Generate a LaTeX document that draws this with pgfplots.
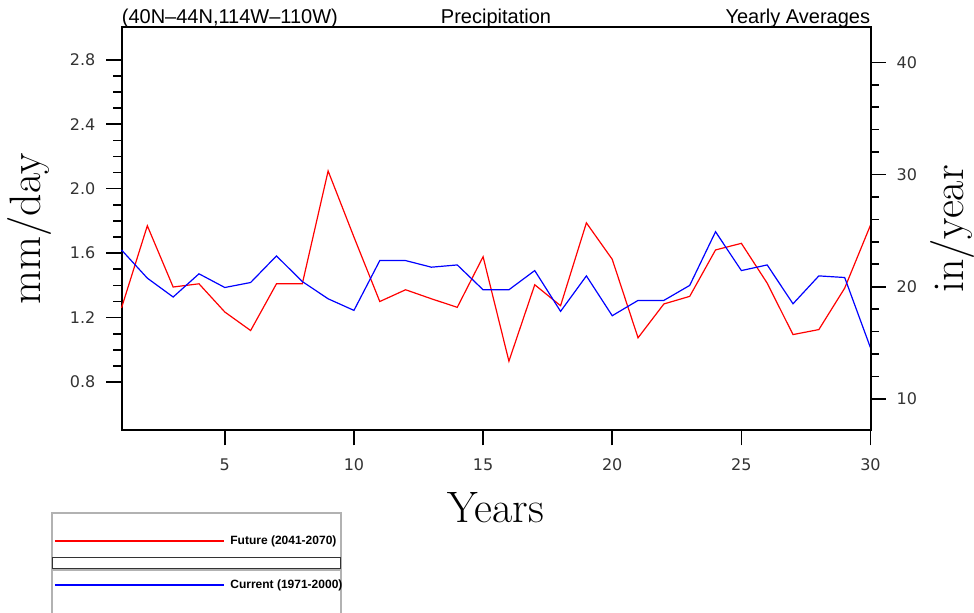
\documentclass[border=0pt]{standalone}
\usepackage{fontspec}
\usepackage{pgfplots}
\pgfplotsset{compat=1.18}
\newfontfamily\tickfont{DejaVu Sans}
\newfontfamily\titlefont{Liberation Sans}
\definecolor{futred}{RGB}{255,0,0}
\definecolor{curblue}{RGB}{0,0,255}

% mm/day -> in/year
\pgfmathsetmacro{\conv}{365/25.4}

\begin{document}
\begin{tikzpicture}
\useasboundingbox (-60.75pt,-91.25pt) rectangle (426.25pt,215.25pt);

\begin{axis}[
    scale only axis,
    width=374.5pt, height=201.5pt,
    at={(0,0)}, anchor=south west,
    xmin=1, xmax=30, ymin=0.5, ymax=3.0,
    xtick={5,10,...,30},
    ytick={0.8,1.2,1.6,2.0,2.4,2.8},
    minor y tick num=3,
    xtick pos=bottom, ytick pos=left,
    tick align=outside,
    major tick length=7.5pt, minor tick length=4pt,
    axis line style={line width=1pt},
    every tick/.style={black, line width=0.8pt},
    /pgf/number format/assume math mode=true,
    yticklabel style={font=\tickfont\fontsize{8}{9}\selectfont, text=black!80,
        xshift=-2pt,
        /pgf/number format/.cd, fixed, fixed zerofill, precision=1},
    xticklabel style={font=\tickfont\fontsize{8}{9}\selectfont, text=black!80,
        yshift=-3pt},
    every axis y label/.style={at={(axis description cs:0,0.5)},
        xshift=-46pt, rotate=90, anchor=center},
    every axis x label/.style={at={(axis description cs:0.5,0)},
        anchor=center, yshift=-38.75pt},
    ylabel={\fontsize{22}{26}\selectfont mm/day},
    xlabel={\fontsize{22}{26}\selectfont Years},
    clip=false,
]
\addplot[futred, line width=0.6pt] coordinates {
 (1,1.26) (2,1.77) (3,1.39) (4,1.41) (5,1.235) (6,1.12) (7,1.41) (8,1.41)
 (9,2.11) (10,1.70) (11,1.30) (12,1.373) (13,1.317) (14,1.264) (15,1.578)
 (16,0.93) (17,1.404) (18,1.274) (19,1.788) (20,1.562) (21,1.075) (22,1.285)
 (23,1.332) (24,1.62) (25,1.661) (26,1.414) (27,1.095) (28,1.126) (29,1.383)
 (30,1.774)
};
\addplot[curblue, line width=0.6pt] coordinates {
 (1,1.62) (2,1.445) (3,1.328) (4,1.472) (5,1.387) (6,1.418) (7,1.583) (8,1.424)
 (9,1.317) (10,1.245) (11,1.554) (12,1.554) (13,1.513) (14,1.527) (15,1.373)
 (16,1.373) (17,1.492) (18,1.239) (19,1.459) (20,1.212) (21,1.307) (22,1.307)
 (23,1.40) (24,1.733) (25,1.492) (26,1.527) (27,1.286) (28,1.459) (29,1.449)
 (30,1.013)
};
\node[anchor=base west, inner sep=0pt, font=\titlefont\fontsize{10}{12}\selectfont]
    at ([yshift=2pt]axis description cs:0,1) {(40N–44N,114W–110W)};
\node[anchor=base, inner sep=0pt, font=\titlefont\fontsize{10}{12}\selectfont]
    at ([yshift=2pt]axis description cs:0.5,1) {Precipitation};
\node[anchor=base east, inner sep=0pt, font=\titlefont\fontsize{10}{12}\selectfont]
    at ([yshift=2pt]axis description cs:1,1) {Yearly Averages};
\end{axis}

% right-hand axis in in/year
\begin{axis}[
    scale only axis,
    width=374.5pt, height=201.5pt,
    at={(0,0)}, anchor=south west,
    xmin=1, xmax=30,
    ymin=0.5*\conv, ymax=3.0*\conv,
    axis x line=none,
    axis y line*=right,
    ytick={10,20,30,40},
    minor y tick num=4,
    tick align=outside,
    major tick length=7.5pt, minor tick length=4pt,
    axis line style={line width=1pt, -},
    every tick/.style={black, line width=0.8pt},
    /pgf/number format/assume math mode=true,
    yticklabel style={font=\tickfont\fontsize{8}{9}\selectfont, text=black!80,
        xshift=2pt},
    every axis y label/.style={at={(axis description cs:1,0.5)},
        xshift=40.75pt, rotate=90, anchor=center},
    ylabel={\fontsize{22}{26}\selectfont in/year},
]
\end{axis}

% legend
\draw[gray!60, line width=1pt] (-34.6pt,-95pt) -- (-34.6pt,-41.4pt) -- (109.6pt,-41.4pt) -- (109.6pt,-95pt);
\draw[black!80, line width=0.5pt] (-34.6pt,-63.4pt) rectangle (109.6pt,-69.2pt);
\draw[gray!60, line width=1pt] (-34.6pt,-70pt) -- (109.6pt,-70pt);
\draw[draw=futred, line width=0.7pt] (-33.25pt,-55.25pt) -- (51.4pt,-55.25pt);
\node[anchor=west, inner sep=0pt, font=\titlefont\bfseries\fontsize{6}{7}\selectfont]
    at (54.25pt,-55.25pt) {Future (2041-2070)};
\draw[draw=curblue, line width=0.7pt] (-33.25pt,-77.25pt) -- (51.4pt,-77.25pt);
\node[anchor=west, inner sep=0pt, font=\titlefont\bfseries\fontsize{6}{7}\selectfont]
    at (54.25pt,-77.25pt) {Current (1971-2000)};
\end{tikzpicture}
\end{document}
